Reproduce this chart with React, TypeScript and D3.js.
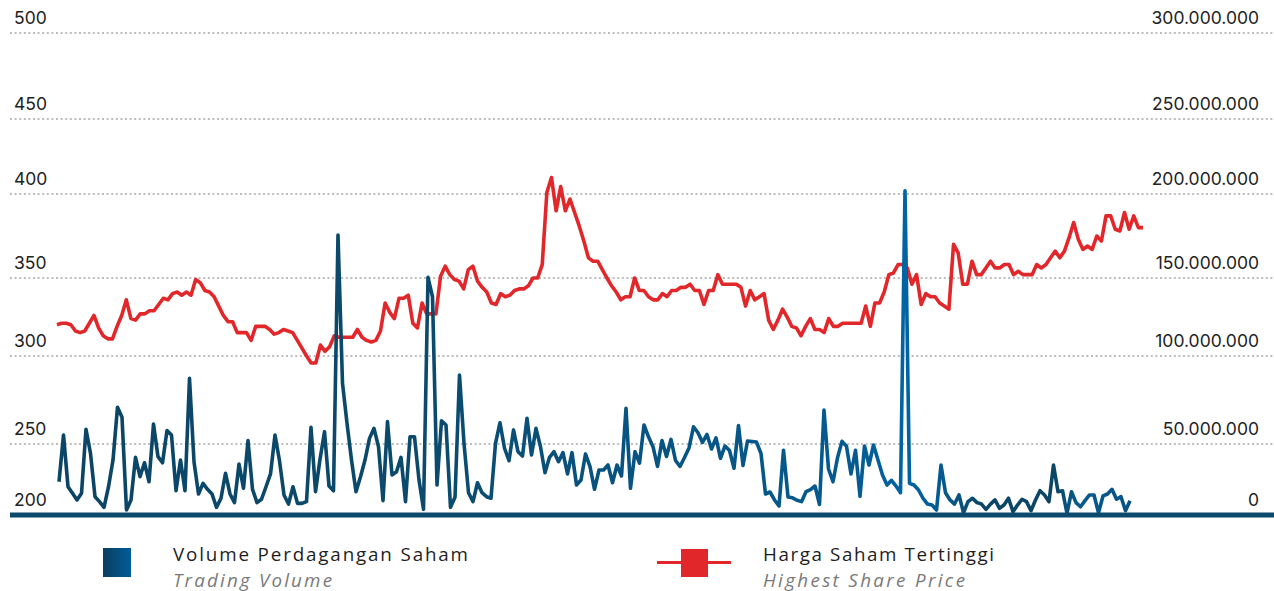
import React from 'react';
import * as d3 from 'd3';

// harga saham tertinggi harian (Rp)
const highestPrice = [
  320, 321, 321, 320, 316, 315, 316, 321, 326, 318,
  313, 311, 311, 319, 326, 336, 324, 323, 327, 327,
  329, 329, 333, 337, 336, 340, 341, 339, 341, 339,
  349, 347, 342, 341, 338, 332, 326, 322, 322, 315,
  315, 315, 310, 319, 319, 319, 317, 314, 315, 317,
  316, 315, 310, 305, 300, 296, 296, 307, 303, 306,
  313, 312, 312, 312, 312, 317, 312, 310, 309, 310,
  316, 334, 328, 324, 337, 337, 339, 321, 318, 334,
  327, 327, 327, 351, 357, 352, 349, 348, 343, 355,
  357, 348, 344, 341, 334, 333, 340, 338, 339, 342,
  343, 343, 345, 350, 350, 358, 401, 411, 390, 405,
  390, 397, 389, 381, 372, 362, 360, 360, 355, 350,
  345, 341, 336, 338, 338, 350, 342, 342, 338, 336,
  336, 340, 338, 342, 342, 344, 344, 346, 342, 342,
  333, 342, 342, 352, 346, 346, 346, 346, 344, 332,
  342, 336, 338, 340, 323, 317, 323, 330, 325, 319,
  318, 313, 319, 324, 317, 317, 315, 324, 319, 319,
  321, 321, 321, 321, 321, 332, 319, 334, 334, 341,
  352, 353, 358, 358, 356, 346, 352, 333, 340, 338,
  338, 334, 332, 330, 370, 365, 346, 346, 360, 352,
  352, 356, 360, 356, 356, 358, 358, 352, 354, 352,
  352, 352, 358, 356, 358, 362, 366, 362, 366, 374,
  383, 373, 367, 369, 367, 375, 372, 387, 387, 379,
  378, 389, 379, 387, 380, 380
];

// volume perdagangan harian (juta lembar)
const tradingVolume = [
  23.4, 55.1, 19.9, 15.3, 10.6, 15.3, 58.4, 43.4, 12.9, 9.4,
  5.4, 19.9, 38.7, 70.9, 65.2, 3.5, 10.6, 40.6, 27.0, 36.8,
  23.4, 61.4, 41.1, 36.8, 57.6, 55.1, 17.1, 38.7, 17.1, 87.3,
  37.5, 14.8, 22.3, 18.1, 14.8, 5.4, 11.8, 29.4, 14.8, 8.7,
  35.9, 18.8, 51.9, 18.1, 8.7, 11.1, 19.9, 28.9, 55.1, 38.2,
  14.1, 7.7, 19.9, 8.2, 8.2, 9.4, 59.5, 16.4, 39.2, 57.0,
  20.4, 17.1, 175.6, 84.5, 61.8, 38.7, 16.4, 27.0, 38.7, 53.2,
  58.9, 48.1, 10.1, 62.7, 28.2, 30.5, 40.6, 9.4, 54.1, 54.1,
  24.6, 4.0, 150.4, 138.0, 21.1, 63.2, 60.8, 5.4, 12.5, 89.2,
  50.4, 15.7, 9.4, 22.7, 15.7, 12.9, 11.8, 50.4, 62.1, 47.0,
  38.2, 58.0, 44.6, 41.5, 64.6, 42.3, 58.9, 48.1, 29.8, 40.6,
  44.6, 37.5, 43.9, 28.9, 43.9, 21.1, 24.6, 43.0, 34.0, 18.1,
  31.7, 31.7, 35.2, 22.7, 35.2, 27.5, 70.3, 18.8, 44.6, 36.6,
  60.8, 54.1, 48.1, 34.2, 52.0, 41.2, 52.6, 38.4, 34.2, 40.5,
  47.2, 59.8, 56.4, 50.9, 55.4, 46.5, 53.5, 39.9, 48.6, 45.4,
  32.9, 60.5, 34.9, 51.7, 51.4, 51.1, 43.3, 14.8, 16.2, 10.6,
  6.3, 45.6, 12.7, 12.1, 10.4, 9.4, 16.4, 17.9, 20.4, 7.4,
  69.3, 32.4, 23.4, 40.3, 51.5, 48.4, 28.9, 45.6, 13.2, 48.6,
  35.2, 49.3, 38.7, 28.2, 21.1, 24.4, 20.4, 15.7, 202.2, 22.3,
  21.1, 17.6, 11.8, 7.7, 7.0, 3.5, 35.2, 15.7, 10.6, 7.7,
  14.1, 1.6, 9.4, 11.8, 8.7, 7.7, 4.0, 7.7, 10.6, 4.7,
  7.0, 11.8, 2.3, 7.0, 11.1, 9.4, 3.0, 10.6, 17.1, 14.1,
  9.4, 35.2, 16.4, 17.1, 1.2, 16.4, 8.7, 5.8, 10.1, 14.1,
  14.1, 1.6, 13.4, 14.8, 18.1, 11.1, 12.9, 3.0, 10.1
];

const priceTicks = [200, 250, 300, 350, 400, 450, 500];
const volumeTicks = [0, 50, 100, 150, 200, 250, 300];

const legendItems = [
  { key: 'volume', title: 'Volume Perdagangan Saham', subtitle: 'Trading Volume' },
  { key: 'price', title: 'Harga Saham Tertinggi', subtitle: 'Highest Share Price' }
];

const WIDTH = 1274;
const HEIGHT = 591;
// grid rows in the source sit at uneven heights
const gridRows = [515, 444, 356, 278, 194, 119, 33];
// legend text spans measured off the source
const legendX = [173, 763];
const titleWidth = [295, 231];
const subtitleWidth = [159, 202];

const idLocale = d3.formatLocale({ decimal: ',', thousands: '.', grouping: [3], currency: ['Rp', ''] });
const formatVolume = (v: number) => idLocale.format(',')(v * 1e6);

const RED = '#e2272b';
const NAVY = '#0b4a6d';
const LABEL_FONT = 'Inter, "Open Sans", sans-serif';
const LEGEND_FONT = '"Open Sans", Roboto, sans-serif';

export default function App() {
  const yPrice = d3.scaleLinear().domain(priceTicks).range(gridRows);
  const yVolume = d3.scaleLinear().domain(volumeTicks).range(gridRows);
  const xPrice = d3.scaleLinear().domain([0, highestPrice.length - 1]).range([57, 1143]);
  const xVolume = d3.scaleLinear().domain([0, tradingVolume.length - 1]).range([59, 1130]);

  const priceLine = d3
    .line<number>()
    .x((_, i) => xPrice(i))
    .y((d) => yPrice(d));
  const volumeLine = d3
    .line<number>()
    .x((_, i) => xVolume(i))
    .y((d) => yVolume(d));

  return (
    <svg
      width={WIDTH}
      height={HEIGHT}
      style={{ position: 'absolute', left: 0, top: 0, background: '#fff' }}
    >
      <defs>
        <linearGradient id="volStroke" gradientUnits="userSpaceOnUse" x1={59} x2={1130} y1={0} y2={0}>
          <stop offset="0" stopColor="#0b4566" />
          <stop offset="0.34" stopColor="#0b4a6c" />
          <stop offset="0.5" stopColor="#08527f" />
          <stop offset="0.74" stopColor="#055a8f" />
          <stop offset="0.79" stopColor="#0064a3" />
          <stop offset="0.83" stopColor="#06588b" />
          <stop offset="0.86" stopColor="#0c4666" />
          <stop offset="0.93" stopColor="#0c4666" />
          <stop offset="0.95" stopColor="#075a8e" />
          <stop offset="1" stopColor="#0a5283" />
        </linearGradient>
        <linearGradient id="volSwatch" x1="0" x2="1" y1="0" y2="0">
          <stop offset="0" stopColor="#0b3f5e" />
          <stop offset="1" stopColor="#005c99" />
        </linearGradient>
      </defs>

      {/* dotted grid */}
      {priceTicks.slice(1).map((t) => (
        <line
          key={t}
          x1={10}
          x2={WIDTH}
          y1={yPrice(t)}
          y2={yPrice(t)}
          stroke="#bdbdbd"
          strokeWidth={2}
          strokeDasharray="2 2.6"
        />
      ))}

      {/* left axis */}
      {priceTicks.map((t) => (
        <text key={t} x={14} y={yPrice(t) - 9} fontFamily={LABEL_FONT} fontSize={17.5} fill="#222">
          {t}
        </text>
      ))}

      {/* right axis */}
      {volumeTicks.map((t) => (
        <text
          key={t}
          x={1259}
          y={yVolume(t) - 9}
          textAnchor="end"
          fontFamily={LABEL_FONT}
          fontSize={17.5}
          fill="#222"
        >
          {formatVolume(t)}
        </text>
      ))}

      <path d={priceLine(highestPrice) || ''} fill="none" stroke={RED} strokeWidth={3.6} strokeLinejoin="round" />
      <path
        d={volumeLine(tradingVolume) || ''}
        fill="none"
        stroke="url(#volStroke)"
        strokeWidth={3.6}
        strokeLinejoin="round"
      />

      <line x1={10} x2={WIDTH} y1={yPrice(200)} y2={yPrice(200)} stroke={NAVY} strokeWidth={5} />

      {/* legend */}
      <g>
        <rect x={103} y={548} width={28} height={29} fill="url(#volSwatch)" />
        <line x1={657} x2={731} y1={562.5} y2={562.5} stroke={RED} strokeWidth={3} />
        <rect x={681} y={549} width={27} height={28} fill={RED} />
        {legendItems.map((item, i) => (
          <g key={item.key} transform={`translate(${legendX[i]},0)`}>
            <text
              y={560.5}
              fontFamily={LEGEND_FONT}
              fontSize={18.8}
              fill="#1e1e1e"
              textLength={titleWidth[i]}
              lengthAdjust="spacing"
            >
              {item.title}
            </text>
            <text
              y={586.5}
              fontFamily={LEGEND_FONT}
              fontSize={18.8}
              fontStyle="italic"
              fill="#7a7a7a"
              textLength={subtitleWidth[i]}
              lengthAdjust="spacing"
            >
              {item.subtitle}
            </text>
          </g>
        ))}
      </g>
    </svg>
  );
}
